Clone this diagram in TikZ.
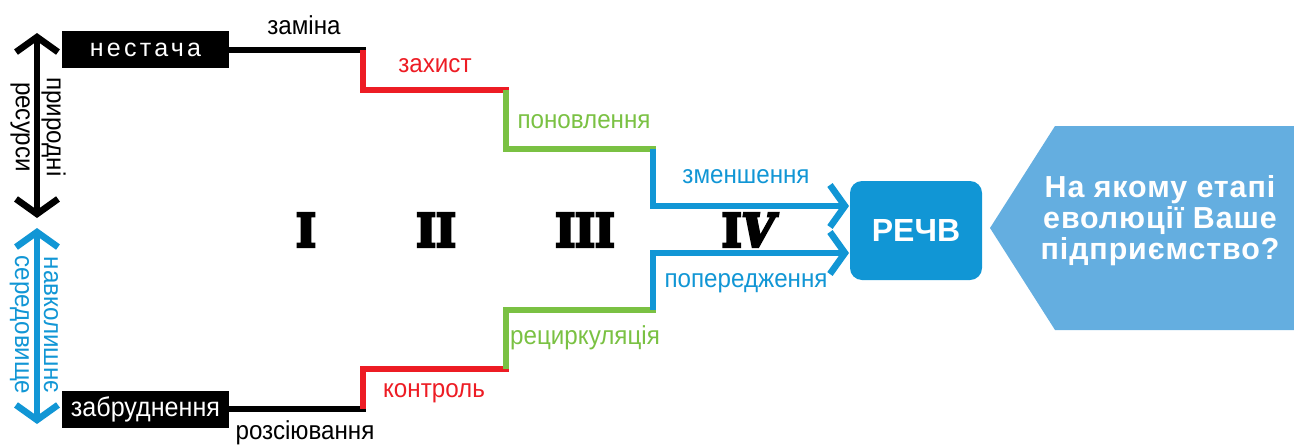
\documentclass[tikz,border=0pt]{standalone}
\usepackage{fontspec}
\setmainfont{Liberation Sans}
\newfontfamily\romanfont[FakeStretch=0.92]{DejaVu Serif}
\newfontfamily\lblfont[FakeStretch=0.93]{Liberation Sans}
\newfontfamily\spacedfont[LetterSpace=13]{Liberation Sans}
\newfontfamily\qfont[LetterSpace=3]{Liberation Sans}
\newcommand{\heavytext}[1]{\special{pdf:code q 2 Tr 1.4 w}#1\special{pdf:code Q}}
\usetikzlibrary{arrows.meta}
\definecolor{cred}{HTML}{ED1C24}
\definecolor{cgreen}{HTML}{7AC143}
\definecolor{cblue}{HTML}{1196D5}
\definecolor{clight}{HTML}{64AEE0}
\begin{document}
\begin{tikzpicture}[x=0.5pt,y=-0.5pt,
  seg/.style={line width=3.3pt, miter limit=10},
  barb/.style={-{Straight Barb[length=7.5pt,width=21pt]}},
  dbarb/.style={{Straight Barb[length=7.5pt,width=21pt]}-{Straight Barb[length=7.5pt,width=21pt]}},
  lbl/.style={font=\lblfont\fontsize{13}{14}\selectfont, inner sep=0pt},
  sidelbl/.style={font=\lblfont\fontsize{13}{14}\selectfont, inner sep=0pt, rotate=-90, anchor=base},
  endbox/.style={fill=black, text=white, minimum width=83.5pt, minimum height=18.5pt, inner sep=0pt, font=\fontsize{12.5}{14}\selectfont},
  numeral/.style={font=\romanfont\bfseries\fontsize{23}{24}\selectfont, inner sep=0pt, text=black, draw=none}
]
\useasboundingbox (0,0) rectangle (1294,445);

% left double arrows
\coordinate (bt) at (37,33);
\coordinate (bb) at (37,218);
\coordinate (lt) at (37,228);
\coordinate (lb) at (37,424);
\draw[seg, dbarb] (bt) -- (bb);
\draw[seg, dbarb, cblue] (lt) -- (lb);
\node[sidelbl] (pr) at (47,127) {природні};
\node[sidelbl] (rs) at (16,127) {ресурси};
\node[sidelbl, text=cblue] (nv) at (44,325) {навколишнє};
\node[sidelbl, text=cblue] (sr) at (15,325) {середовище};

% end boxes
\node[endbox] (short) at (145.5,49.5) {\spacedfont нестача};
\node[endbox] (poll) at (145.5,409.5) {\lblfont\fontsize{13.5}{14}\selectfont забруднення};

% upper staircase
\coordinate (u1) at (366,50);
\coordinate (u2a) at (363,50);
\coordinate (u2) at (363,90);
\coordinate (u3) at (509,90);
\coordinate (u4a) at (506,90);
\coordinate (u4) at (506,149);
\coordinate (u5) at (656,149);
\coordinate (u6a) at (653,149);
\coordinate (u6) at (653,206);
\coordinate (u7) at (849,206);
\draw[seg] (short.east |- u1) -- (u1);
\draw[seg, cred] (u2a) -- (u2) -- (u3);
\draw[seg, cgreen] (u4a) -- (u4) -- (u5);
\draw[seg, cblue, barb] (u6a) -- (u6) -- (u7);

% lower staircase
\coordinate (d1) at (366,409);
\coordinate (d2a) at (363,409);
\coordinate (d2) at (363,369);
\coordinate (d3) at (509,369);
\coordinate (d4a) at (506,369);
\coordinate (d4) at (506,310);
\coordinate (d5) at (656,310);
\coordinate (d6a) at (653,310);
\coordinate (d6) at (653,253);
\coordinate (d7) at (849,253);
\draw[seg] (poll.east |- d1) -- (d1);
\draw[seg, cred] (d2a) -- (d2) -- (d3);
\draw[seg, cgreen] (d4a) -- (d4) -- (d5);
\draw[seg, cblue, barb] (d6a) -- (d6) -- (d7);

% labels
\node[lbl] (l1) at (304,25) {заміна};
\node[lbl, text=cred] (l2) at (435,66) {захист};
\node[lbl, text=cgreen] (l3) at (584,122) {поновлення};
\node[lbl, text=cblue] (l4) at (746,177) {зменшення};
\node[lbl, text=cblue] (l5) at (746,283) {попередження};
\node[lbl, text=cgreen] (l6) at (585,338) {рециркуляція};
\node[lbl, text=cred] (l7) at (434,393) {контроль};
\node[lbl] (l8) at (305,433) {розсіювання};

% numerals
\node[numeral] (n1) at (306,230) {\heavytext{I}};
\node[numeral] (n2) at (436,230) {\heavytext{II}};
\node[numeral] (n3) at (585,230) {\heavytext{III}};
\node[numeral] (n4) at (750,230) {\heavytext{I\textit{V}}};

% РЕЧВ box
\node[fill=cblue, rounded corners=6pt, minimum width=66pt, minimum height=49.5pt, text=white, font=\bfseries\fontsize{16}{17}\selectfont] (rechv) at (916,230.5) {РЕЧВ};

% question pentagon
\fill[clight] (990,228) -- (1055,126) -- (1294,126) -- (1294,330) -- (1055,330) -- cycle;
\node[text=white, align=center, font=\qfont\bfseries\fontsize{15.2}{15.5}\selectfont, inner sep=0pt] (q) at (1160,221) {На якому етапі\\еволюції Ваше\\підприємство?};
\end{tikzpicture}
\end{document}
